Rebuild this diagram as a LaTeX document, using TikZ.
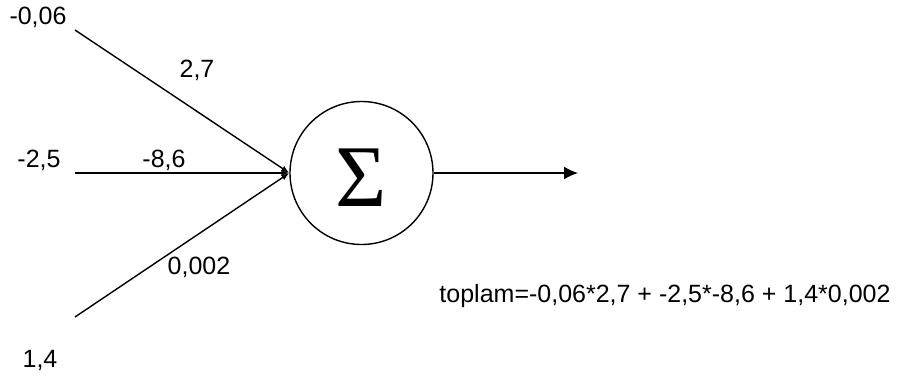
\documentclass[tikz,border=0pt]{standalone}
\usepackage{fontspec}
\usetikzlibrary{arrows.meta}
\setmainfont{Liberation Sans}
\newfontfamily\sigmafont{Liberation Serif}

\begin{document}
\begin{tikzpicture}[x=1pt, y=-1pt,
  lbl/.style={anchor=base, inner sep=0pt, font=\fontsize{25}{30}\selectfont},
  weight/.style={line width=1.4pt, -{Latex[length=8pt, width=6pt]}},
  output/.style={line width=1.4pt, -{Latex[length=14pt, width=13pt]}}]
\useasboundingbox (0,0) rectangle (899,378);

% summing unit
\node (sum) [circle, draw, line width=1.4pt, minimum size=143pt, inner sep=0pt, text height=66pt, text depth=0pt, font=\sigmafont\fontsize{88}{88}\selectfont] at (361.5,173) {Σ};

% inputs and output end
\coordinate (in1) at (75,30);
\coordinate (in2) at (75,173);
\coordinate (in3) at (75,317);
\coordinate (out) at (578,173);

% input values
\node (x1) [lbl] at (38,24) {-0,06};
\node (x2) [lbl] at (39,167) {-2,5};
\node (x3) [lbl] at (40,367) {1,4};

% weights
\node (w1) [lbl] at (197,77) {2,7};
\node (w2) [lbl] at (164,167) {-8,6};
\node (w3) [lbl] at (199,274) {0,002};

\node (total) [lbl] at (665,302) {toplam=-0,06*2,7 + -2,5*-8,6 + 1,4*0,002};

\draw[weight] (in1) -- (sum.west);
\draw[weight] (in2) -- (sum.west);
\draw[weight] (in3) -- (sum.west);
\draw[output] (sum.east) -- (out);

\end{tikzpicture}
\end{document}
